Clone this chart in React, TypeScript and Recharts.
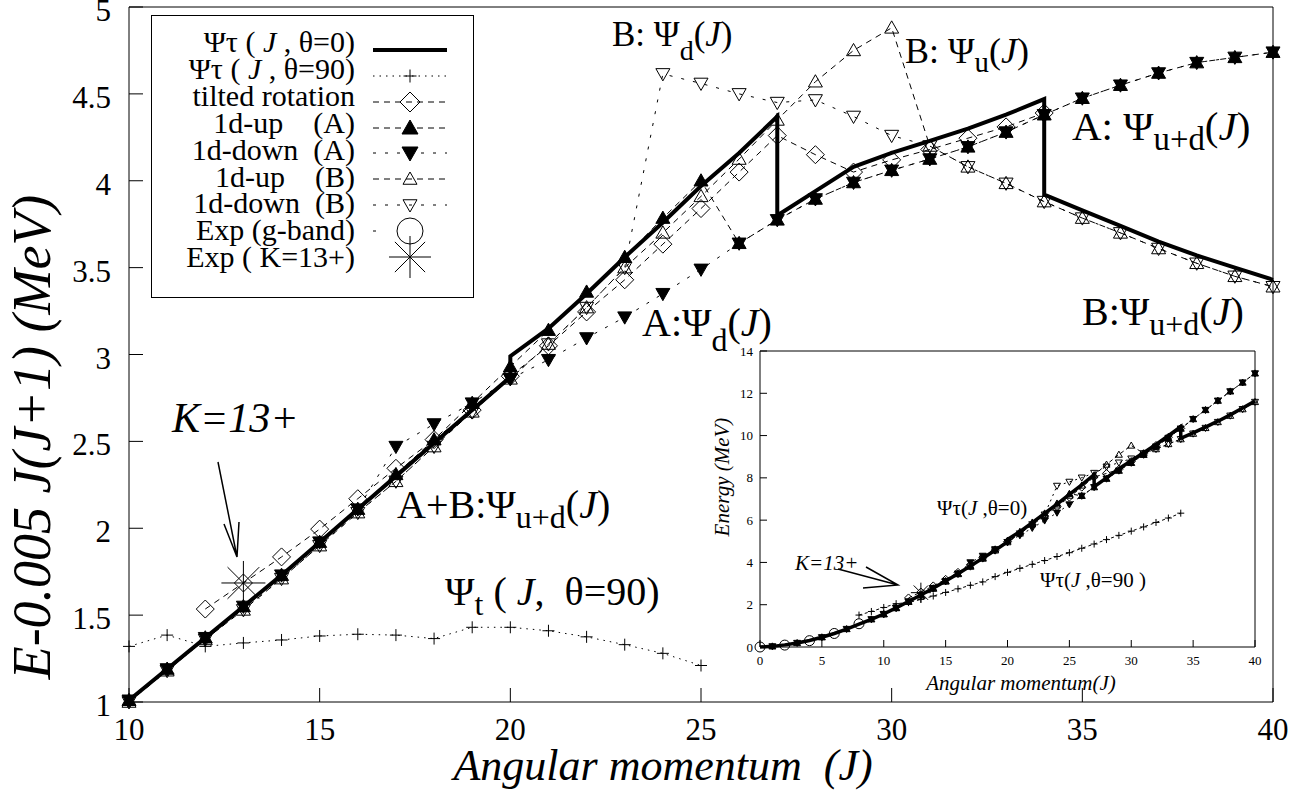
import React from "react";
import { ComposedChart, Line, XAxis, YAxis, Legend } from "recharts";

const SERIF = '"Liberation Serif", "DejaVu Serif", "Times New Roman", serif';
const INK = "#000";

type Pt = [number, number];

// ---------- main panel: E - 0.005 J(J+1) vs J ----------
const jTicksMain = [10, 15, 20, 25, 30, 35, 40];
const eTicksMain = [1, 1.5, 2, 2.5, 3, 3.5, 4, 4.5, 5];

// Ψτ(J, θ=0): repeated J gives the vertical jumps
const theta0Main: Pt[] = [
  [10, 1.01], [11, 1.19], [12, 1.37], [13, 1.55], [14, 1.73], [15, 1.92], [16, 2.11], [17, 2.3],
  [18, 2.49], [19, 2.68], [20, 2.87], [20, 2.99], [21, 3.15], [22, 3.35], [23, 3.56], [24, 3.76],
  [25, 3.97], [26, 4.16], [27, 4.37], [27, 3.8], [28, 3.94], [29, 4.08], [30, 4.16], [31, 4.23],
  [32, 4.3], [33, 4.38], [34, 4.47], [34, 3.92], [35, 3.83], [36, 3.74], [37, 3.65], [38, 3.57],
  [39, 3.5], [40, 3.43],
];
const theta90Main: Pt[] = [
  [10, 1.32], [11, 1.385], [12, 1.32], [13, 1.34], [14, 1.357], [15, 1.38], [16, 1.39], [17, 1.385],
  [18, 1.365], [19, 1.43], [20, 1.43], [21, 1.41], [22, 1.375], [23, 1.33], [24, 1.28], [25, 1.21],
];
const tiltedMain: Pt[] = [
  [12, 1.535], [13, 1.685], [14, 1.835], [15, 1.995], [16, 2.17], [17, 2.345], [18, 2.51], [19, 2.68],
  [20, 2.875], [21, 3.05], [22, 3.245], [23, 3.43], [24, 3.635], [25, 3.84], [26, 4.05], [27, 4.26],
  [28, 4.15], [29, 4.05], [30, 4.12], [31, 4.18], [32, 4.245], [33, 4.31], [34, 4.39],
];
const upAMain: Pt[] = [
  [10, 1.01], [11, 1.19], [12, 1.37], [13, 1.55], [14, 1.73], [15, 1.92], [16, 2.11], [17, 2.31],
  [18, 2.51], [19, 2.72], [20, 2.93], [21, 3.14], [22, 3.36], [23, 3.56], [24, 3.785], [25, 4.0],
  [26, 3.64], [27, 3.775], [28, 3.895], [29, 3.99], [30, 4.06], [31, 4.125], [32, 4.195], [33, 4.28],
  [34, 4.38], [35, 4.475], [36, 4.55], [37, 4.62], [38, 4.68], [39, 4.71], [40, 4.74],
];
const downAMain: Pt[] = [
  [10, 1.01], [11, 1.19], [12, 1.37], [13, 1.55], [14, 1.73], [15, 1.92], [16, 2.11], [17, 2.47],
  [18, 2.6], [19, 2.72], [20, 2.86], [21, 2.97], [22, 3.095], [23, 3.215], [24, 3.35], [25, 3.49],
  [26, 3.64], [27, 3.775], [28, 3.895], [29, 3.99], [30, 4.06], [31, 4.125], [32, 4.195], [33, 4.28],
  [34, 4.38], [35, 4.475], [36, 4.55], [37, 4.62], [38, 4.68], [39, 4.71], [40, 4.74],
];
const upBMain: Pt[] = [
  [10, 1.0], [11, 1.18], [12, 1.36], [13, 1.53], [14, 1.71], [15, 1.9], [16, 2.09], [17, 2.27],
  [18, 2.47], [19, 2.67], [20, 2.86], [21, 3.06], [22, 3.27], [23, 3.5], [24, 3.7], [25, 3.91],
  [26, 4.125], [27, 4.35], [28, 4.57], [29, 4.75], [30, 4.88], [31, 4.2], [32, 4.08], [33, 3.985],
  [34, 3.88], [35, 3.785], [36, 3.7], [37, 3.61], [38, 3.525], [39, 3.45], [40, 3.39],
];
const downBMain: Pt[] = [
  [10, 1.0], [11, 1.18], [12, 1.36], [13, 1.53], [14, 1.71], [15, 1.9], [16, 2.09], [17, 2.27],
  [18, 2.47], [19, 2.67], [20, 2.86], [21, 3.06], [22, 3.27], [23, 3.5], [24, 4.615], [25, 4.56],
  [26, 4.5], [27, 4.45], [28, 4.465], [29, 4.37], [30, 4.26], [31, 4.2], [32, 4.08], [33, 3.985],
  [34, 3.88], [35, 3.785], [36, 3.7], [37, 3.61], [38, 3.525], [39, 3.45], [40, 3.39],
];
const expK13Main: Pt[] = [[13, 1.685]];

// ---------- inset: raw energy vs J ----------
const jTicksInset = [0, 5, 10, 15, 20, 25, 30, 35, 40];
const eTicksInset = [0, 2, 4, 6, 8, 10, 12, 14];

const theta0Inset: Pt[] = [
  [0, 0], [1, 0.03], [2, 0.1], [3, 0.19], [4, 0.31], [5, 0.46], [6, 0.64], [7, 0.85], [8, 1.08],
  [9, 1.31], [10, 1.56], [11, 1.85], [12, 2.15], [13, 2.46], [14, 2.78], [15, 3.12], [16, 3.47],
  [17, 3.83], [18, 4.2], [19, 4.58], [20, 4.97], [20, 5.09], [21, 5.46], [22, 5.88], [23, 6.32],
  [24, 6.76], [25, 7.22], [26, 7.67], [27, 8.15], [27, 7.58], [28, 8.0], [29, 8.43], [30, 8.81],
  [31, 9.19], [32, 9.58], [33, 9.99], [34, 10.42], [34, 9.87], [35, 10.13], [36, 10.4], [37, 10.68],
  [38, 10.98], [39, 11.3], [40, 11.63],
];
const theta90Inset: Pt[] = [
  [8, 1.51], [9, 1.68], [10, 1.87], [11, 2.05], [12, 2.1], [13, 2.25], [14, 2.41], [15, 2.58],
  [16, 2.75], [17, 2.92], [18, 3.08], [19, 3.33], [20, 3.53], [21, 3.72], [22, 3.91], [23, 4.09],
  [24, 4.28], [25, 4.46], [26, 4.67], [27, 4.87], [28, 5.08], [29, 5.28], [30, 5.48], [31, 5.68],
  [32, 5.89], [33, 6.1], [34, 6.33],
];
const tiltedInset: Pt[] = [
  [12, 2.32], [13, 2.6], [14, 2.89], [15, 3.2], [16, 3.53], [17, 3.88], [18, 4.22], [19, 4.58],
  [20, 4.98], [21, 5.36], [22, 5.78], [23, 6.19], [24, 6.64], [25, 7.09], [26, 7.56], [27, 8.04],
  [28, 8.21], [29, 8.4], [30, 8.77], [31, 9.14], [32, 9.53], [33, 9.92], [34, 10.34],
];
const upAInset: Pt[] = [
  [1, 0.03], [3, 0.19], [5, 0.46], [7, 0.85], [9, 1.31], [10, 1.56], [11, 1.85], [12, 2.15],
  [13, 2.46], [14, 2.78], [15, 3.12], [16, 3.47], [17, 3.84], [18, 4.22], [19, 4.62], [20, 5.03],
  [21, 5.45], [22, 5.89], [23, 6.32], [24, 6.79], [25, 7.25], [26, 7.15], [27, 7.56], [28, 7.96],
  [29, 8.34], [30, 8.71], [31, 9.09], [32, 9.48], [33, 9.89], [34, 10.33], [35, 10.78], [36, 11.21],
  [37, 11.65], [38, 12.09], [39, 12.51], [40, 12.94],
];
const downAInset: Pt[] = [
  [1, 0.03], [3, 0.19], [5, 0.46], [7, 0.85], [9, 1.31], [10, 1.56], [11, 1.85], [12, 2.15],
  [13, 2.46], [14, 2.78], [15, 3.12], [16, 3.47], [17, 4.0], [18, 4.31], [19, 4.62], [20, 4.96],
  [21, 5.28], [22, 5.63], [23, 5.98], [24, 6.35], [25, 6.74], [26, 7.15], [27, 7.56], [28, 7.96],
  [29, 8.34], [30, 8.71], [31, 9.09], [32, 9.48], [33, 9.89], [34, 10.33], [35, 10.78], [36, 11.21],
  [37, 11.65], [38, 12.09], [39, 12.51], [40, 12.94],
];
const upBInset: Pt[] = [
  [10, 1.55], [11, 1.84], [12, 2.14], [13, 2.44], [14, 2.76], [15, 3.1], [16, 3.45], [17, 3.8],
  [18, 4.18], [19, 4.57], [20, 4.96], [21, 5.37], [22, 5.8], [23, 6.26], [24, 6.7], [25, 7.16],
  [26, 7.64], [27, 8.13], [28, 8.63], [29, 9.1], [30, 9.53], [31, 9.16], [32, 9.36], [33, 9.6],
  [34, 9.83], [35, 10.09], [36, 10.36], [37, 10.64], [38, 10.94], [39, 11.25], [40, 11.59],
];
const downBInset: Pt[] = [
  [10, 1.55], [11, 1.84], [12, 2.14], [13, 2.44], [14, 2.76], [15, 3.1], [16, 3.45], [17, 3.8],
  [18, 4.18], [19, 4.57], [20, 4.96], [21, 5.37], [22, 5.8], [23, 6.26], [24, 7.62], [25, 7.81],
  [26, 8.01], [27, 8.23], [28, 8.53], [29, 8.72], [30, 8.91], [31, 9.16], [32, 9.36], [33, 9.6],
  [34, 9.83], [35, 10.09], [36, 10.36], [37, 10.64], [38, 10.94], [39, 11.25], [40, 11.59],
];
const gBandInset: Pt[] = [[0, 0], [2, 0.09], [4, 0.3], [6, 0.64], [8, 1.1]];
const expK13Inset: Pt[] = [[13, 2.57]];

const pts = (a: Pt[]) => a.map(([j, e]) => ({ j, e }));

// ---------- point markers ----------
type Mk = (cx: number, cy: number, k: string) => React.ReactElement;

const plus = (s: number): Mk => (cx, cy, k) => (
  <path key={k} d={`M${cx - s},${cy}H${cx + s}M${cx},${cy - s}V${cy + s}`} stroke={INK} strokeWidth={1} fill="none" />
);
const diamond = (s: number): Mk => (cx, cy, k) => (
  <path key={k} d={`M${cx},${cy - s}L${cx + s},${cy}L${cx},${cy + s}L${cx - s},${cy}Z`} stroke={INK} strokeWidth={1} fill="none" />
);
const tri = (s: number, up: boolean, filled: boolean): Mk => (cx, cy, k) => {
  const h = s * 0.75;
  const d = up
    ? `M${cx},${cy - s}L${cx + s},${cy + h}L${cx - s},${cy + h}Z`
    : `M${cx},${cy + s}L${cx + s},${cy - h}L${cx - s},${cy - h}Z`;
  return <path key={k} d={d} stroke={INK} strokeWidth={1} fill={filled ? INK : "none"} />;
};
const ring = (r: number): Mk => (cx, cy, k) => (
  <circle key={k} cx={cx} cy={cy} r={r} stroke={INK} strokeWidth={1} fill="none" />
);
const asterisk = (s: number): Mk => (cx, cy, k) => {
  const d = s * 0.72;
  return (
    <path
      key={k}
      d={`M${cx - s},${cy}H${cx + s}M${cx},${cy - s}V${cy + s}M${cx - d},${cy - d}L${cx + d},${cy + d}M${cx - d},${cy + d}L${cx + d},${cy - d}`}
      stroke={INK}
      strokeWidth={1}
      fill="none"
    />
  );
};
const dotOf = (mk: Mk) => (p: any) =>
  p.cx == null || p.cy == null || Number.isNaN(p.cx) ? <g key={`n${p.index}`} /> : mk(p.cx, p.cy, `d${p.index}`);

const noTick = () => <g />;

// ---------- legend of the main panel ----------
function MainLegend() {
  const lineY = [35, 61, 87, 113, 138, 164, 190, 216, 242];
  const textY = [37, 64, 91, 118, 145, 172, 198, 225, 252];
  const tx = 204;
  const x1 = 222;
  const x2 = 296;
  const mx = 259;
  const sample = (i: number, dash?: string, w = 1) => (
    <line x1={x1} x2={x2} y1={lineY[i]} y2={lineY[i]} stroke={INK} strokeWidth={w} strokeDasharray={dash} />
  );
  const label = (i: number, body: React.ReactNode) => (
    <text x={tx} y={textY[i]} textAnchor="end" fontFamily={SERIF} fontSize={30} fill={INK} style={{ whiteSpace: "pre" }}>
      {body}
    </text>
  );
  return (
    <svg width={323} height={283} style={{ display: "block", overflow: "visible" }}>
      <rect x={0.5} y={0.5} width={322} height={282} fill="#fff" stroke={INK} strokeWidth={1} />
      {label(0, <>Ψτ ( <tspan fontStyle="italic">J</tspan> , θ=0)</>)}
      {sample(0, undefined, 4)}
      {label(1, <>Ψτ ( <tspan fontStyle="italic">J</tspan> , θ=90)</>)}
      {sample(1, "1.5 5")}
      {plus(6.5)(mx, lineY[1], "l1")}
      {label(2, "tilted rotation")}
      {sample(2, "6 5")}
      {diamond(10)(mx, lineY[2], "l2")}
      {label(3, "1d-up    (A)")}
      {sample(3, "6 5")}
      {tri(8, true, true)(mx, lineY[3], "l3")}
      {label(4, "1d-down  (A)")}
      {sample(4, "3 9")}
      {tri(8, false, true)(mx, lineY[4], "l4")}
      {label(5, "1d-up    (B)")}
      {sample(5, "6 5")}
      {tri(7, true, false)(mx, lineY[5], "l5")}
      {label(6, "1d-down  (B)")}
      {sample(6, "3 9")}
      {tri(7, false, false)(mx, lineY[6], "l6")}
      {label(7, "Exp (g-band)")}
      <line x1={x1} x2={x1 + 3} y1={lineY[7]} y2={lineY[7]} stroke={INK} />
      {ring(13)(mx, lineY[7], "l7")}
      {label(8, "Exp ( K=13+)")}
      {asterisk(21)(mx, lineY[8], "l8")}
    </svg>
  );
}

function MainChart() {
  const series = [
    { key: "upB", data: upBMain, dash: "6 5", mk: tri(7, true, false) },
    { key: "downB", data: downBMain, dash: "3 9", mk: tri(7, false, false) },
    { key: "tilted", data: tiltedMain, dash: "6 5", mk: diamond(9) },
    { key: "upA", data: upAMain, dash: "6 5", mk: tri(7, true, true) },
    { key: "downA", data: downAMain, dash: "3 9", mk: tri(7, false, true) },
    { key: "theta90", data: theta90Main, dash: "1.5 5", mk: plus(6) },
  ];
  return (
    <ComposedChart width={1304} height={795} margin={{ top: 6, right: 30, bottom: 3, left: 9 }}>
      <XAxis
        xAxisId="b"
        dataKey="j"
        type="number"
        domain={[10, 40]}
        ticks={jTicksMain}
        interval={0}
        height={90}
        tickSize={-14}
        tickMargin={31}
        stroke={INK}
        tick={(p: any) => (
          <text x={p.x} y={p.y + 21} textAnchor="middle" fontFamily={SERIF} fontSize={31} fill={INK}>
            {p.payload.value}
          </text>
        )}
      />
      <XAxis xAxisId="t" orientation="top" type="number" domain={[10, 40]} ticks={jTicksMain} interval={0} height={1} tickSize={-14} stroke={INK} tick={noTick} />
      <YAxis
        yAxisId="l"
        type="number"
        domain={[1, 5]}
        ticks={eTicksMain}
        interval={0}
        width={120}
        tickSize={-14}
        tickMargin={32}
        stroke={INK}
        tick={(p: any) => (
          <text x={p.x} y={p.y + 14} textAnchor="end" fontFamily={SERIF} fontSize={31} fill={INK}>
            {p.payload.value}
          </text>
        )}
      />
      <YAxis yAxisId="r" orientation="right" type="number" domain={[1, 5]} ticks={eTicksMain} interval={0} width={1} tickSize={-14} stroke={INK} tick={noTick} />
      <Legend
        layout="horizontal"
        verticalAlign="middle"
        align="center"
        content={() => <MainLegend />}
        wrapperStyle={{ left: 151, top: 15, width: 323, height: 283 }}
      />
      {series.map((s) => (
        <Line
          key={s.key}
          xAxisId="b"
          yAxisId="l"
          data={pts(s.data)}
          dataKey="e"
          type="linear"
          stroke={INK}
          strokeWidth={1}
          strokeDasharray={s.dash}
          dot={dotOf(s.mk)}
          activeDot={false}
          legendType="none"
          isAnimationActive={false}
        />
      ))}
      <Line xAxisId="b" yAxisId="l" data={pts(theta0Main)} dataKey="e" type="linear" stroke={INK} strokeWidth={4} dot={false} activeDot={false} legendType="none" isAnimationActive={false} />
      <Line xAxisId="b" yAxisId="l" data={pts(expK13Main)} dataKey="e" stroke="none" dot={dotOf(asterisk(22))} activeDot={false} legendType="none" isAnimationActive={false} />
    </ComposedChart>
  );
}

function InsetChart() {
  const series = [
    { key: "theta90", data: theta90Inset, dash: "3 3", mk: plus(3.5) },
    { key: "upB", data: upBInset, dash: "4 3", mk: tri(3.5, true, false) },
    { key: "downB", data: downBInset, dash: "2 4", mk: tri(3.5, false, false) },
    { key: "tilted", data: tiltedInset, dash: "4 3", mk: diamond(4) },
    { key: "upA", data: upAInset, dash: "4 3", mk: tri(3.5, true, true) },
    { key: "downA", data: downAInset, dash: "2 4", mk: tri(3.5, false, true) },
  ];
  return (
    <ComposedChart width={580} height={360} margin={{ top: 10, right: 14, bottom: 3, left: 10 }}>
      <XAxis
        xAxisId="b"
        dataKey="j"
        type="number"
        domain={[0, 40]}
        ticks={jTicksInset}
        interval={0}
        height={50}
        tickSize={-7}
        tickMargin={16}
        stroke={INK}
        tick={(p: any) => (
          <text x={p.x} y={p.y + 9} textAnchor="middle" fontFamily={SERIF} fontSize={13} fill={INK}>
            {p.payload.value}
          </text>
        )}
      />
      <XAxis xAxisId="t" orientation="top" type="number" domain={[0, 40]} ticks={jTicksInset} interval={0} height={1} tickSize={-6} stroke={INK} tick={noTick} />
      <YAxis
        yAxisId="l"
        type="number"
        domain={[0, 14]}
        ticks={eTicksInset}
        interval={0}
        width={60}
        tickSize={-7}
        tickMargin={14}
        stroke={INK}
        tick={(p: any) => (
          <text x={p.x} y={p.y + 4.5} textAnchor="end" fontFamily={SERIF} fontSize={13} fill={INK}>
            {p.payload.value}
          </text>
        )}
      />
      <YAxis yAxisId="r" orientation="right" type="number" domain={[0, 14]} ticks={eTicksInset} interval={0} width={1} tickSize={-7} stroke={INK} tick={noTick} />
      {series.map((s) => (
        <Line
          key={s.key}
          xAxisId="b"
          yAxisId="l"
          data={pts(s.data)}
          dataKey="e"
          type="linear"
          stroke={INK}
          strokeWidth={1}
          strokeDasharray={s.dash}
          dot={dotOf(s.mk)}
          activeDot={false}
          legendType="none"
          isAnimationActive={false}
        />
      ))}
      <Line xAxisId="b" yAxisId="l" data={pts(theta0Inset)} dataKey="e" type="linear" stroke={INK} strokeWidth={3.5} dot={false} activeDot={false} legendType="none" isAnimationActive={false} />
      <Line xAxisId="b" yAxisId="l" data={pts(gBandInset)} dataKey="e" stroke="none" dot={dotOf(ring(5))} activeDot={false} legendType="none" isAnimationActive={false} />
      <Line xAxisId="b" yAxisId="l" data={pts(expK13Inset)} dataKey="e" stroke="none" dot={dotOf(asterisk(10))} activeDot={false} legendType="none" isAnimationActive={false} />
    </ComposedChart>
  );
}

// Ψ label with a subscript, then (J)
function PsiNote(props: { x: number; y: number; size: number; pre: string; sub: string; subDy: number }) {
  const { x, y, size, pre, sub, subDy } = props;
  return (
    <text x={x} y={y} fontFamily={SERIF} fontSize={size} fill={INK} style={{ whiteSpace: "pre" }}>
      {pre}
      <tspan dy={subDy} fontSize={size * 0.8}>{sub}</tspan>
      <tspan dy={-subDy}>(</tspan>
      <tspan fontStyle="italic">J</tspan>)
    </text>
  );
}

function Notes() {
  return (
    <svg width={1304} height={795} style={{ position: "absolute", left: 0, top: 0, pointerEvents: "none" }}>
      {/* axis titles */}
      <text transform="translate(50,437) rotate(-90)" textAnchor="middle" fontFamily={SERIF} fontStyle="italic" fontSize={54} fill={INK}>
        E-0.005 J(J+1) (MeV)
      </text>
      <text x={663} y={780} textAnchor="middle" fontFamily={SERIF} fontStyle="italic" fontSize={44} fill={INK} style={{ whiteSpace: "pre" }}>
        Angular momentum  (J)
      </text>

      <PsiNote x={612} y={46} size={35} pre="B: Ψ" sub="d" subDy={14} />
      <PsiNote x={905} y={63} size={36} pre="B: Ψ" sub="u" subDy={9} />
      <PsiNote x={1072} y={140} size={41} pre="A: Ψ" sub="u+d" subDy={10} />
      <PsiNote x={1082} y={325} size={40} pre="B:Ψ" sub="u+d" subDy={10} />
      <PsiNote x={642} y={336} size={40} pre="A:Ψ" sub="d" subDy={15} />
      <PsiNote x={397} y={518} size={40} pre="A+B:Ψ" sub="u+d" subDy={10} />
      <text x={445} y={605} fontFamily={SERIF} fontSize={40} fill={INK} style={{ whiteSpace: "pre" }}>
        Ψ<tspan dy={10} fontSize={32}>t</tspan>
        <tspan dy={-10}> ( </tspan>
        <tspan fontStyle="italic">J</tspan>,  θ=90)
      </text>
      <text x={172} y={432} fontFamily={SERIF} fontStyle="italic" fontSize={42} fill={INK}>
        K=13+
      </text>
      <path d="M218,462L237,557M224,524L237,557L239,522" stroke={INK} strokeWidth={1.5} fill="none" />

      {/* inset texts */}
      <text transform="translate(729,477) rotate(-90)" textAnchor="middle" fontFamily={SERIF} fontStyle="italic" fontSize={21} fill={INK}>
        Energy (MeV)
      </text>
      <text x={1021} y={690} textAnchor="middle" fontFamily={SERIF} fontStyle="italic" fontSize={21} fill={INK}>
        Angular momentum(J)
      </text>
      <text x={937} y={515} fontFamily={SERIF} fontSize={21} fill={INK} style={{ whiteSpace: "pre" }}>
        Ψτ(<tspan fontStyle="italic">J</tspan> ,θ=0)
      </text>
      <text x={1040} y={587} fontFamily={SERIF} fontSize={21} fill={INK} style={{ whiteSpace: "pre" }}>
        Ψτ(<tspan fontStyle="italic">J</tspan> ,θ=90 )
      </text>
      <text x={795} y={570} fontFamily={SERIF} fontStyle="italic" fontSize={21} fill={INK}>
        K=13+
      </text>
      <path d="M838,569L898,585M866,567L898,585L863,588" stroke={INK} strokeWidth={1.5} fill="none" />
    </svg>
  );
}

export default function App() {
  return (
    <div style={{ position: "absolute", left: 0, top: 0, width: 1304, height: 795, background: "#fff" }}>
      <div style={{ position: "absolute", left: 0, top: 0 }}>
        <MainChart />
      </div>
      <div style={{ position: "absolute", left: 690, top: 340 }}>
        <InsetChart />
      </div>
      <Notes />
    </div>
  );
}
